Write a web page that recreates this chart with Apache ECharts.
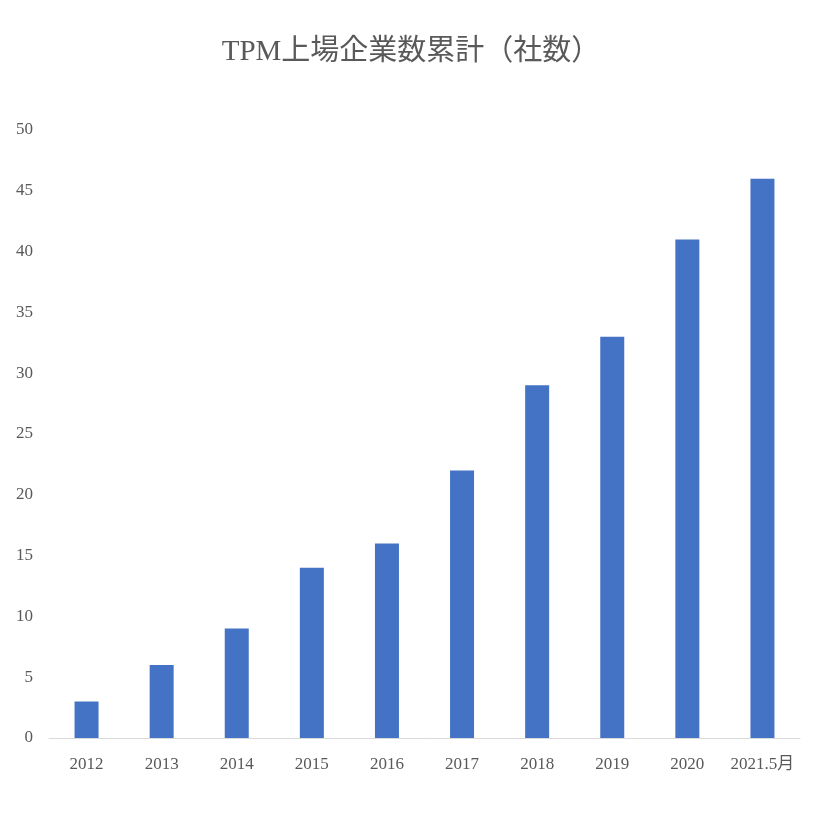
<!DOCTYPE html>
<html><head><meta charset="utf-8">
<script src="https://cdn.jsdelivr.net/npm/echarts@6/dist/echarts.min.js"></script>
<style>html,body{margin:0;padding:0;background:#fff}#c{width:822px;height:822px}</style>
</head><body><div id="c"></div>
<script>
const categories = ["2012","2013","2014","2015","2016","2017","2018","2019","2020","2021.5月"];
const values = [3,6,9,14,16,22,29,33,41,46];
const titleText = "TPM上場企業数累計（社数）";
const fontFam = "'Liberation Serif','DejaVu Serif','Noto Sans CJK JP',serif";
const chart = echarts.init(document.getElementById('c'));
chart.setOption({
  animation:false,
  title:{text:titleText,left:'center',top:33,textStyle:{fontFamily:fontFam,fontSize:29,fontWeight:'normal',color:'#595959'}},
  grid:{left:49,right:22,top:130,bottom:84},
  xAxis:{type:'category',data:categories,axisTick:{show:false},
    axisLine:{lineStyle:{color:'#d9d9d9'}},
    axisLabel:{interval:0,fontFamily:fontFam,fontSize:17,color:'#595959',margin:18}},
  yAxis:{type:'value',min:0,max:50,interval:5,splitLine:{show:false},
    axisLabel:{fontFamily:fontFam,fontSize:17,color:'#595959',margin:16}},
  series:[{type:'bar',data:values,barWidth:24,itemStyle:{color:'#4472C4'}}]
});
</script></body></html>
